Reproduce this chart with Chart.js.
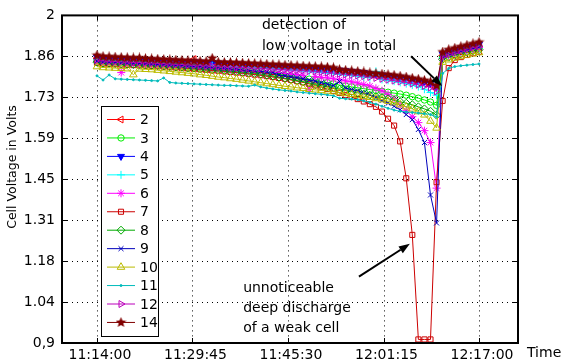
<!DOCTYPE html>
<html>
<head>
<meta charset="utf-8">
<script src="https://cdn.jsdelivr.net/npm/chart.js@4.4.1/dist/chart.umd.min.js"></script>
<style>
  html, body { margin: 0; padding: 0; background: #fff; }
</style>
</head>
<body>
<canvas id="chart" width="561" height="361"></canvas>
<script>
// cell voltages, one sample per minute starting 11:14:00
const seriesNames = ['2', '3', '4', '5', '6', '7', '8', '9', '10', '11', '12', '14'];

const cell2 = [1.856,1.853,1.852,1.851,1.851,1.850,1.849,1.848,1.847,1.846,
  1.845,1.844,1.843,1.842,1.841,1.841,1.853,1.839,1.838,1.837,
  1.836,1.835,1.834,1.833,1.832,1.831,1.830,1.829,1.828,1.827,
  1.826,1.825,1.824,1.823,1.822,1.820,1.819,1.817,1.815,1.813,
  1.811,1.809,1.807,1.805,1.803,1.800,1.797,1.794,1.792,1.789,
  1.786,1.783,1.779,1.775,1.771,1.766,1.752,
  1.865,1.874,1.880,1.886,1.891,1.896,1.900];
const cell3 = [1.848,1.845,1.844,1.843,1.842,1.841,1.840,1.839,1.838,1.837,
  1.836,1.834,1.833,1.832,1.830,1.829,1.828,1.826,1.825,1.823,
  1.822,1.820,1.819,1.817,1.815,1.813,1.811,1.809,1.806,1.804,
  1.801,1.798,1.796,1.793,1.789,1.786,1.782,1.778,1.774,1.770,
  1.766,1.763,1.760,1.757,1.754,1.751,1.748,1.745,1.742,1.739,
  1.736,1.732,1.727,1.722,1.716,1.709,1.698,
  1.860,1.868,1.874,1.880,1.885,1.889,1.893];
const cell4 = [1.860,1.857,1.856,1.855,1.855,1.854,1.853,1.852,1.851,1.850,
  1.849,1.848,1.847,1.846,1.845,1.845,1.844,1.843,1.842,1.841,
  1.840,1.839,1.838,1.837,1.836,1.835,1.834,1.833,1.832,1.831,
  1.830,1.829,1.828,1.827,1.826,1.824,1.823,1.821,1.820,1.818,
  1.816,1.814,1.812,1.810,1.808,1.805,1.803,1.800,1.798,1.795,
  1.792,1.789,1.785,1.781,1.777,1.772,1.760,
  1.870,1.878,1.884,1.889,1.894,1.899,1.903];
const cell5 = [1.851,1.848,1.847,1.846,1.845,1.844,1.843,1.843,1.842,1.841,
  1.840,1.839,1.838,1.837,1.836,1.835,1.834,1.833,1.832,1.831,
  1.830,1.829,1.828,1.827,1.826,1.825,1.824,1.823,1.822,1.821,
  1.819,1.818,1.816,1.815,1.813,1.811,1.810,1.808,1.806,1.804,
  1.802,1.800,1.798,1.796,1.793,1.791,1.812,1.785,1.782,1.779,
  1.775,1.771,1.766,1.761,1.752,1.741,1.732,
  1.857,1.866,1.872,1.877,1.882,1.886,1.890];
const cell6 = [1.846,1.842,1.841,1.840,1.808,1.838,1.837,1.836,1.835,1.834,
  1.833,1.832,1.830,1.829,1.828,1.827,1.826,1.824,1.823,1.822,
  1.821,1.819,1.818,1.817,1.815,1.814,1.812,1.811,1.809,1.808,
  1.806,1.805,1.803,1.801,1.799,1.752,1.795,1.792,1.790,1.787,
  1.784,1.780,1.777,1.773,1.768,1.763,1.755,1.747,1.735,1.720,
  1.700,1.680,1.660,1.640,1.613,1.573,1.420,
  1.855,1.865,1.872,1.878,1.883,1.888,1.892];
const cell7 = [1.841,1.838,1.837,1.836,1.835,1.834,1.833,1.832,1.831,1.830,
  1.829,1.828,1.826,1.825,1.823,1.822,1.820,1.819,1.817,1.815,
  1.814,1.812,1.810,1.808,1.806,1.804,1.801,1.799,1.796,1.793,
  1.790,1.787,1.783,1.779,1.775,1.770,1.765,1.759,1.753,1.746,
  1.740,1.733,1.726,1.719,1.711,1.702,1.693,1.677,1.653,1.630,
  1.577,1.453,1.263,0.912,0.912,0.912,1.440,
  1.713,1.823,1.850,1.860,1.867,1.873,1.878];
const cell8 = [1.843,1.840,1.839,1.838,1.837,1.836,1.835,1.834,1.833,1.832,
  1.831,1.830,1.828,1.827,1.826,1.824,1.823,1.821,1.820,1.818,
  1.817,1.815,1.813,1.811,1.809,1.807,1.805,1.803,1.800,1.797,
  1.793,1.789,1.785,1.781,1.777,1.773,1.768,1.764,1.760,1.756,
  1.752,1.748,1.744,1.740,1.736,1.732,1.728,1.724,1.720,1.715,
  1.710,1.705,1.700,1.693,1.686,1.678,1.665,
  1.852,1.860,1.866,1.872,1.877,1.881,1.885];
const cell9 = [1.847,1.844,1.843,1.842,1.841,1.840,1.839,1.838,1.837,1.836,
  1.835,1.834,1.833,1.832,1.831,1.829,1.828,1.827,1.826,1.824,
  1.823,1.822,1.820,1.819,1.817,1.815,1.814,1.812,1.810,1.808,
  1.800,1.797,1.794,1.791,1.787,1.783,1.779,1.774,1.769,1.764,
  1.778,1.756,1.751,1.746,1.740,1.734,1.724,1.714,1.705,1.695,
  1.683,1.667,1.650,1.617,1.573,1.397,1.303,
  1.858,1.866,1.873,1.879,1.884,1.888,1.892];
const cell10 = [1.828,1.825,1.824,1.823,1.822,1.821,1.801,1.820,1.819,1.818,
  1.816,1.814,1.812,1.810,1.808,1.806,1.804,1.801,1.799,1.796,
  1.793,1.791,1.788,1.786,1.783,1.780,1.777,1.774,1.771,1.768,
  1.765,1.762,1.760,1.757,1.755,1.752,1.750,1.748,1.746,1.744,
  1.741,1.738,1.735,1.732,1.729,1.725,1.721,1.717,1.712,1.707,
  1.700,1.693,1.686,1.677,1.666,1.645,1.622,
  1.843,1.851,1.857,1.862,1.867,1.871,1.875];
const cell11 = [1.797,1.783,1.800,1.787,1.786,1.785,1.784,1.783,1.782,1.781,
  1.780,1.790,1.775,1.773,1.772,1.771,1.770,1.769,1.768,1.767,
  1.766,1.765,1.765,1.764,1.763,1.762,1.766,1.760,1.756,1.753,
  1.750,1.748,1.746,1.743,1.741,1.739,1.737,1.735,1.733,1.730,
  1.722,1.720,1.719,1.717,1.713,1.708,1.702,1.695,1.688,1.682,
  1.678,1.676,1.674,1.672,1.670,1.667,1.660,
  1.805,1.822,1.828,1.831,1.833,1.835,1.837];
const cell12 = [1.850,1.847,1.846,1.845,1.844,1.843,1.842,1.842,1.841,1.840,
  1.839,1.838,1.837,1.836,1.835,1.834,1.833,1.832,1.831,1.830,
  1.829,1.828,1.827,1.826,1.825,1.824,1.823,1.822,1.821,1.820,
  1.819,1.818,1.817,1.816,1.815,1.813,1.812,1.810,1.808,1.806,
  1.804,1.802,1.800,1.798,1.796,1.793,1.790,1.787,1.784,1.781,
  1.778,1.775,1.771,1.767,1.763,1.758,1.745,
  1.862,1.870,1.876,1.882,1.887,1.892,1.896];
const cell14 = [1.866,1.862,1.861,1.860,1.859,1.858,1.857,1.857,1.855,1.854,
  1.853,1.852,1.851,1.850,1.849,1.848,1.847,1.846,1.845,1.856,
  1.843,1.842,1.842,1.841,1.840,1.839,1.838,1.837,1.836,1.835,
  1.834,1.833,1.832,1.831,1.830,1.829,1.828,1.827,1.826,1.824,
  1.818,1.816,1.814,1.812,1.810,1.807,1.805,1.803,1.801,1.799,
  1.796,1.793,1.789,1.786,1.782,1.777,1.765,
  1.877,1.885,1.890,1.895,1.900,1.905,1.910];

const seriesValues = [cell2, cell3, cell4, cell5, cell6, cell7, cell8, cell9, cell10, cell11, cell12, cell14];

// axes (x in minutes after 11:14:00)
const xTickMinutes = [0, 15.75, 31.5, 47.25, 63];
const xTickLabels = ['11:14:00', '11:29:45', '11:45:30', '12:01:15', '12:17:00'];
const yTickValues = [0.9, 1.0375, 1.175, 1.3125, 1.45, 1.5875, 1.725, 1.8625, 2];
const yTickLabels = ['0,9', '1.04', '1.18', '1.31', '1.45', '1.59', '1.73', '1.86', '2'];

const FONT = '14px "DejaVu Sans"';

function makeStar(color, size) {
  const c = document.createElement('canvas');
  c.width = c.height = size;
  const g = c.getContext('2d');
  g.fillStyle = color;
  g.beginPath();
  const R = size / 2, r = R * 0.45;
  for (let k = 0; k < 10; k++) {
    const a = -Math.PI / 2 + k * Math.PI / 5;
    const rr = k % 2 ? r : R;
    g.lineTo(R + rr * Math.cos(a), R + rr * Math.sin(a));
  }
  g.closePath();
  g.fill();
  return c;
}

const styles = [
  { color: '#ff0000', point: 'triangle', rot: -90, r: 4 },
  { color: '#00ee00', point: 'circle', r: 3.2 },
  { color: '#0000ff', point: 'triangle', rot: 180, r: 4, filled: true },
  { color: '#00ffff', point: 'cross', r: 4 },
  { color: '#ff00ff', point: 'star', r: 4 },
  { color: '#cc0000', point: 'rect', r: 3.6 },
  { color: '#00aa00', point: 'rectRot', r: 4 },
  { color: '#0000bb', point: 'crossRot', r: 3.5 },
  { color: '#bbbb00', point: 'triangle', r: 4.4 },
  { color: '#00bbbb', point: 'circle', r: 1, filled: true },
  { color: '#bb00bb', point: 'triangle', rot: 90, r: 4 },
  { color: '#800000', point: makeStar('#800000', 11), r: 5 }
];

const datasets = seriesNames.map((name, i) => {
  const s = styles[i];
  return {
    label: name,
    data: seriesValues[i].map((v, k) => ({ x: k, y: v })),
    borderColor: s.color,
    backgroundColor: s.color,
    borderWidth: 1,
    pointStyle: s.point,
    pointRotation: s.rot || 0,
    pointRadius: s.r,
    pointBorderWidth: 1,
    pointBorderColor: s.color,
    pointBackgroundColor: s.filled ? s.color : 'rgba(0,0,0,0)',
    order: seriesNames.length - i,
    clip: false
  };
});

// annotation positions in data units
const notes = [
  { text: 'detection of', x: 27.2, y: 1.967 },
  { text: 'low voltage in total', x: 27.2, y: 1.897 },
  { text: 'unnoticeable', x: 24.1, y: 1.083 },
  { text: 'deep discharge', x: 24.1, y: 1.017 },
  { text: 'of a weak cell', x: 24.1, y: 0.95 }
];
const arrows = [
  { from: [51.8, 1.863], to: [56.9, 1.763] },
  { from: [43.2, 1.123], to: [51.6, 1.233] }
];

const overlay = {
  id: 'overlay',
  beforeDatasetsDraw(chart) {
    const { ctx, chartArea: a, scales: { x, y } } = chart;
    ctx.save();
    ctx.strokeStyle = '#000';
    ctx.lineWidth = 1;
    ctx.setLineDash([1, 4]);
    xTickMinutes.forEach(m => {
      const px = Math.round(x.getPixelForValue(m)) + 0.5;
      ctx.beginPath(); ctx.moveTo(px, a.top); ctx.lineTo(px, a.bottom); ctx.stroke();
    });
    yTickValues.forEach(v => {
      const py = Math.round(y.getPixelForValue(v)) + 0.5;
      ctx.beginPath(); ctx.moveTo(a.left, py); ctx.lineTo(a.right, py); ctx.stroke();
    });
    ctx.restore();
  },
  afterDraw(chart) {
    const { ctx, chartArea: a, scales: { x, y } } = chart;
    ctx.save();

    // frame with inward ticks
    ctx.strokeStyle = '#000';
    ctx.lineWidth = 1;
    const tl = 5;
    xTickMinutes.forEach(m => {
      const px = Math.round(x.getPixelForValue(m)) + 0.5;
      ctx.beginPath();
      ctx.moveTo(px, a.bottom); ctx.lineTo(px, a.bottom - tl);
      ctx.moveTo(px, a.top); ctx.lineTo(px, a.top + tl);
      ctx.stroke();
    });
    yTickValues.forEach(v => {
      const py = Math.round(y.getPixelForValue(v)) + 0.5;
      ctx.beginPath();
      ctx.moveTo(a.left, py); ctx.lineTo(a.left + tl, py);
      ctx.moveTo(a.right, py); ctx.lineTo(a.right - tl, py);
      ctx.stroke();
    });
    ctx.lineWidth = 2;
    ctx.strokeRect(a.left, a.top, a.right - a.left, a.bottom - a.top);

    // legend box
    ctx.fillStyle = '#fff';
    ctx.fillRect(101, 106, 57, 230);
    ctx.lineWidth = 1;
    ctx.strokeStyle = '#000';
    ctx.strokeRect(101.5, 106.5, 57, 230);
    ctx.font = FONT;
    ctx.textBaseline = 'middle';
    ctx.textAlign = 'left';
    chart.data.datasets.forEach((ds, i) => {
      const cy = 119.5 + i * 18.45;
      ctx.strokeStyle = ds.borderColor;
      ctx.lineWidth = 1;
      ctx.beginPath(); ctx.moveTo(107, cy); ctx.lineTo(135, cy); ctx.stroke();
      ctx.fillStyle = ds.pointBackgroundColor;
      Chart.helpers.drawPoint(ctx, {
        pointStyle: ds.pointStyle, rotation: ds.pointRotation,
        radius: ds.pointRadius, borderWidth: 1
      }, 121, cy);
      ctx.fillStyle = '#000';
      ctx.fillText(ds.label, 140, cy + 1);
    });

    // annotations
    ctx.fillStyle = '#000';
    notes.forEach(n => ctx.fillText(n.text, x.getPixelForValue(n.x), y.getPixelForValue(n.y)));
    arrows.forEach(ar => {
      const x0 = x.getPixelForValue(ar.from[0]), y0 = y.getPixelForValue(ar.from[1]);
      const x1 = x.getPixelForValue(ar.to[0]), y1 = y.getPixelForValue(ar.to[1]);
      const ang = Math.atan2(y1 - y0, x1 - x0);
      const hl = 11, hw = 4;
      const bx = x1 - hl * Math.cos(ang), by = y1 - hl * Math.sin(ang);
      ctx.strokeStyle = '#000';
      ctx.lineWidth = 2;
      ctx.beginPath(); ctx.moveTo(x0, y0); ctx.lineTo(bx, by); ctx.stroke();
      ctx.beginPath();
      ctx.moveTo(x1, y1);
      ctx.lineTo(bx + hw * Math.sin(ang), by - hw * Math.cos(ang));
      ctx.lineTo(bx - hw * Math.sin(ang), by + hw * Math.cos(ang));
      ctx.closePath();
      ctx.fill();
    });

    // axis titles
    ctx.fillText('Time', 527, 353);
    ctx.font = '12.5px "DejaVu Sans"';
    ctx.translate(13, 167);
    ctx.rotate(-Math.PI / 2);
    ctx.textAlign = 'center';
    ctx.fillText('Cell Voltage in Volts', 0, 0);
    ctx.restore();
  }
};

new Chart(document.getElementById('chart'), {
  type: 'line',
  data: { datasets },
  options: {
    responsive: false,
    animation: false,
    layout: { padding: { top: 13, right: 43, left: 0, bottom: 0 } },
    plugins: { legend: { display: false }, tooltip: { enabled: false } },
    scales: {
      x: {
        type: 'linear',
        min: -5.77,
        max: 69.43,
        grid: { display: false, drawTicks: false },
        border: { display: false },
        afterFit: s => { s.height = 18; },
        afterBuildTicks: s => { s.ticks = xTickMinutes.map(v => ({ value: v })); },
        ticks: {
          color: '#000',
          font: { family: 'DejaVu Sans', size: 14 },
          padding: 4,
          labelOffset: 3,
          maxRotation: 0,
          callback: (v, i) => xTickLabels[i]
        }
      },
      y: {
        min: 0.9,
        max: 2,
        grid: { display: false, drawTicks: false },
        border: { display: false },
        afterFit: s => { s.width = 62; },
        afterBuildTicks: s => { s.ticks = yTickValues.map(v => ({ value: v })); },
        ticks: {
          color: '#000',
          font: { family: 'DejaVu Sans', size: 14 },
          padding: 7,
          callback: (v, i) => yTickLabels[i]
        }
      }
    }
  },
  plugins: [overlay]
});
</script>
</body>
</html>
